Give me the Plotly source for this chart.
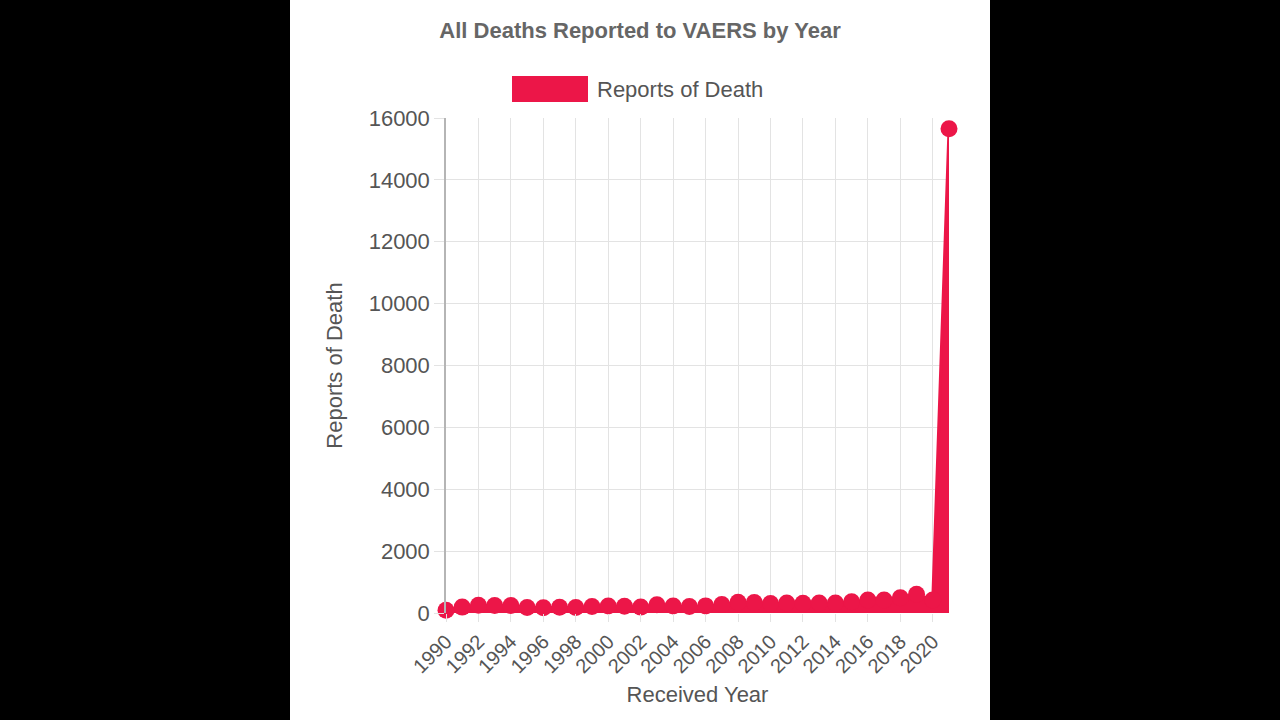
import plotly.graph_objects as go

years = list(range(1990, 2022))
deaths = [90, 190, 250, 245, 245, 175, 170, 185, 180, 210, 225, 220, 190, 270, 225, 210,
          230, 275, 345, 340, 310, 325, 315, 320, 320, 365, 420, 420, 495, 605, 420, 15650]
x_ticks = list(range(1990, 2021, 2))
y_ticks = list(range(0, 16001, 2000))

title_text = "All Deaths Reported to VAERS by Year"
series_name = "Reports of Death"
red = "rgb(236,22,72)"
font = "Liberation Sans, Arial, sans-serif"

fig = go.Figure()
fig.add_trace(go.Scatter(
    x=years, y=deaths, name=series_name, mode="lines+markers",
    fill="tozeroy", fillcolor=red,
    line=dict(color=red, width=3),
    marker=dict(color=red, size=17),
    showlegend=False, cliponaxis=False,
))

L, R, T, B = 446, 949, 118, 613
W = R - L
H = B - T

def px_x(px):
    return (px - L) / W

def px_y(py):
    return (B - py) / H

shapes = [
    dict(type="rect", xref="paper", yref="paper", x0=px_x(290), x1=px_x(990),
         y0=px_y(720), y1=px_y(0), fillcolor="white", line=dict(width=0), layer="below"),
    dict(type="rect", xref="paper", yref="paper", x0=px_x(512), x1=px_x(588),
         y0=px_y(102), y1=px_y(76), fillcolor=red, line=dict(width=0)),
]
annotations = [
    dict(text=series_name, xref="paper", yref="paper", x=px_x(595), y=px_y(89),
         xanchor="left", yanchor="middle", showarrow=False,
         font=dict(family=font, size=22, color="#555")),
]

fig.update_layout(
    width=1280, height=720,
    margin=dict(l=L, r=1280 - R, t=T, b=720 - B),
    paper_bgcolor="black", plot_bgcolor="white",
    title=dict(text="<b>" + title_text + "</b>", x=px_x(640), xref="paper", xanchor="center",
               y=1 - 30 / 720, yanchor="middle",
               font=dict(family=font, size=22, color="#666")),
    shapes=shapes, annotations=annotations,
    font=dict(family=font, color="#555"),
)
fig.update_xaxes(
    range=[1990, 2021], tickvals=x_ticks, tickangle=-45,
    showgrid=True, gridcolor="#e3e3e3", gridwidth=1,
    ticks="outside", ticklen=8, tickcolor="#e3e3e3",
    showline=False, zeroline=False,
    tickfont=dict(family=font, size=20, color="#555"),
    title=dict(text="Received Year", font=dict(family=font, size=22, color="#555"), standoff=10),
)
fig.update_yaxes(
    range=[0, 16000], tickvals=y_ticks, tickformat="d",
    showgrid=True, gridcolor="#e3e3e3", gridwidth=1,
    ticks="outside", ticklen=10, tickcolor="#e3e3e3",
    showline=True, linecolor="#b5b5b5", linewidth=1.5,
    zeroline=False,
    tickfont=dict(family=font, size=22, color="#555"),
    title=dict(text="Reports of Death", font=dict(family=font, size=22, color="#555"), standoff=20),
)

fig.write_html("out.html", config={"displayModeBar": False},
               post_script="document.body.style.margin='0';document.body.style.background='black';")
